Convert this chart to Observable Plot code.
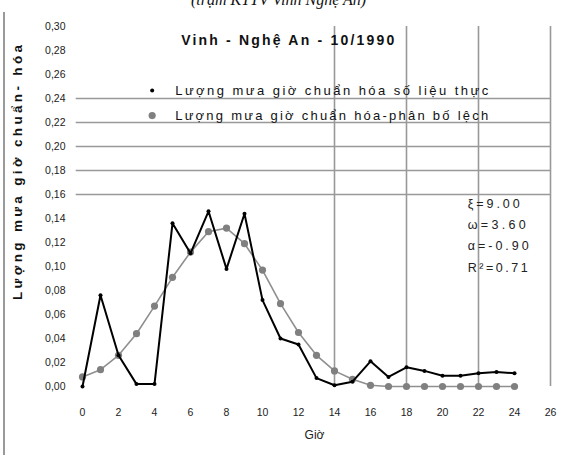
<!DOCTYPE html>
<html><head><meta charset="utf-8">
<script src="https://cdn.jsdelivr.net/npm/d3@7"></script>
<script src="https://cdn.jsdelivr.net/npm/@observablehq/plot@0.6"></script>
<style>
html,body{margin:0;padding:0;background:#fff;overflow:hidden;}
#wrap{position:relative;width:563px;height:455px;}
#border{position:absolute;left:3px;top:12px;width:2px;height:443px;background:#9a9a9a;}
#chart svg{overflow:visible;}
</style></head>
<body><div id="wrap"><div id="chart"></div><div id="border"></div></div>
<script>
const hours = [0,1,2,3,4,5,6,7,8,9,10,11,12,13,14,15,16,17,18,19,20,21,22,23,24];
const observed = [0.000,0.076,0.026,0.002,0.002,0.136,0.111,0.146,0.098,0.144,0.072,0.040,0.035,0.007,0.001,0.004,0.021,0.008,0.016,0.013,0.009,0.009,0.011,0.012,0.011];
const skewed = [0.008,0.014,0.026,0.044,0.067,0.091,0.112,0.129,0.132,0.119,0.097,0.069,0.045,0.026,0.013,0.006,0.001,0.0,0.0,0.0,0.0,0.0,0.0,0.0,0.0];
const xTicks = [0,2,4,6,8,10,12,14,16,18,20,22,24,26];
const yTicks = [0,0.02,0.04,0.06,0.08,0.10,0.12,0.14,0.16,0.18,0.20,0.22,0.24,0.26,0.28,0.30];
const hGrid = [0.16,0.18,0.20,0.22,0.24];
const vGrid = [14,18,22,26];
const seriesNames = ["Lượng mưa giờ chuẩn hóa số liệu thực","Lượng mưa giờ chuẩn hóa-phân bố lệch"];
const stats = ["ξ=9.00","ω=3.60","α=-0.90","R²=0.71"];
const statWidths = [52, 58, 61, 60];
const topTitle = "(trạm KTTV Vinh Nghệ An)";
const chartTitle = "Vinh - Nghệ An - 10/1990";
const yLabel = "Lượng mưa giờ chuẩn- hóa";
const xLabel = "Giờ";

const obs = hours.map((h,i)=>({h, v: observed[i]}));
const skw = hours.map((h,i)=>({h, v: skewed[i]}));
const fmt = d => d.toFixed(2).replace(".", ",");
const font = "Liberation Sans, Arial, sans-serif";

const plot = Plot.plot({
  width: 563, height: 455,
  marginLeft: 82, marginRight: 13, marginTop: 26, marginBottom: 69,
  style: {fontFamily: font, background: "transparent", overflow: "visible"},
  x: {domain: [0, 26], label: null},
  y: {domain: [0, 0.30], label: null},
  marks: [
    Plot.axisX({ticks: xTicks, tickSize: 0, tickPadding: 22, tickFormat: d => String(d), fontSize: 10.5, fill: "#222", label: null}),
    Plot.axisY({ticks: yTicks, tickSize: 0, tickPadding: 17, tickFormat: fmt, fontSize: 10.5, fill: "#222", label: null}),
    Plot.ruleY(hGrid, {x1: -0.35, x2: 26, stroke: "#999", strokeWidth: 1.6}),
    Plot.ruleX(vGrid, {y1: 0, y2: 0.30, stroke: "#999", strokeWidth: 1.6}),
    Plot.line(skw, {x: "h", y: "v", stroke: "#8f8f8f", strokeWidth: 1.6}),
    Plot.dot(skw, {x: "h", y: "v", r: 3.6, fill: "#808080", stroke: "none"}),
    Plot.line(obs, {x: "h", y: "v", stroke: "#000", strokeWidth: 2}),
    Plot.dot(obs, {x: "h", y: "v", r: 2, fill: "#000", stroke: "none"}),
    // legend
    Plot.dot([{x: 3.87, y: 0.2467}], {x: "x", y: "y", r: 2, fill: "#000"}),
    Plot.dot([{x: 3.87, y: 0.2258}], {x: "x", y: "y", r: 3.6, fill: "#808080"}),
    Plot.text([{x: 5.15, y: 0.2467, t: seriesNames[0]}, {x: 5.15, y: 0.2258, t: seriesNames[1]}],
      {x: "x", y: "y", text: "t", textAnchor: "start", fontSize: 13, fill: "#111"}),
    // chart title
    Plot.text([chartTitle], {x: 11.4, y: 0.2885, text: d => d, fontSize: 14, fontWeight: "bold", fill: "#111"}),
    // stats
    Plot.text(stats.map((s,i)=>({s, y: 0.1525 - i*0.0178})), {x: 21.4, y: "y", text: "s", textAnchor: "start", fontSize: 12.5, fill: "#222"}),
    // axis titles
    Plot.text([xLabel], {frameAnchor: "bottom", dx: -2, dy: 52, text: d => d, fontSize: 12, fill: "#222"}),
    Plot.text([yLabel], {frameAnchor: "left", dx: -65, dy: -34, rotate: -90, textAnchor: "middle", text: d => d, fontSize: 13.5, fontWeight: "bold", fill: "#111"}),
    // cropped top caption
    Plot.text([topTitle], {frameAnchor: "top", dx: -38, dy: -33, text: d => d, fontSize: 16, fontStyle: "italic", fontFamily: "Liberation Serif, Times New Roman, serif", fill: "#111"})
  ]
});
d3.select(plot).selectAll("text").each(function() {
  const t = this.textContent;
  const fit = w => { this.setAttribute("textLength", w); this.setAttribute("lengthAdjust", "spacing"); };
  if (seriesNames.includes(t)) fit(313);
  else if (t === chartTitle) fit(213);
  else if (t === yLabel) fit(255);
  else if (stats.includes(t)) fit(statWidths[stats.indexOf(t)]);
});
document.getElementById("chart").appendChild(plot);
</script></body></html>
